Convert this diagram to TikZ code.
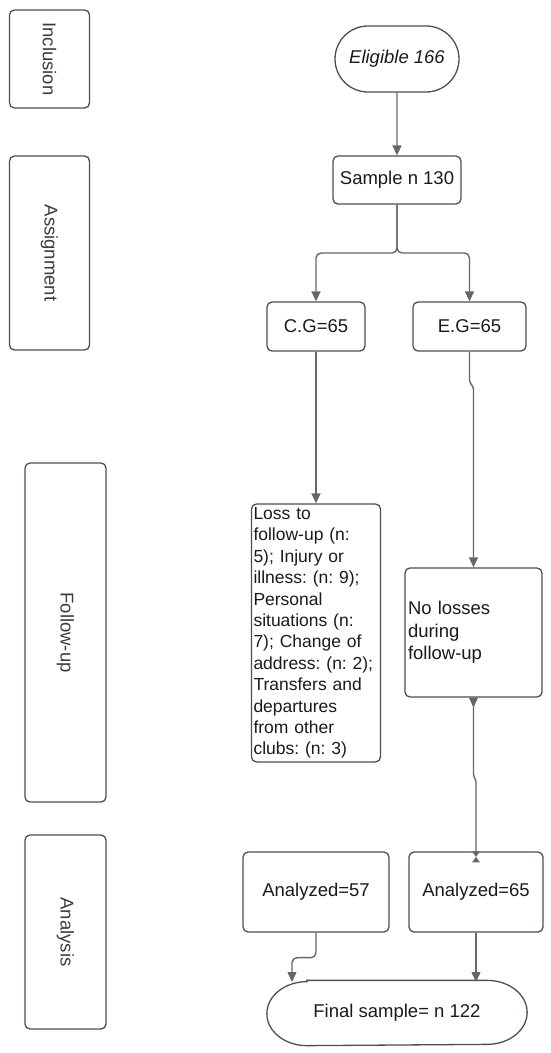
\documentclass[tikz,border=0pt]{standalone}
\usepackage{fontspec}
\setmainfont{Liberation Sans}
\usetikzlibrary{arrows.meta,shapes.misc,calc}
\definecolor{edgecol}{HTML}{4A4F55}
\definecolor{conncol}{HTML}{666666}
\definecolor{ink}{HTML}{1A1A1A}
\frenchspacing
\tikzset{
  base/.style={draw=edgecol, line width=1.3pt, text=ink, inner sep=3pt, align=center,
    font=\fontsize{18.5pt}{22pt}\selectfont},
  box/.style={base, rounded corners=5pt},
  lane/.style={box, text=ink!85, font=\fontsize{18.5pt}{22pt}\selectfont, rotate=-90},
  conn/.style={draw=conncol, line width=1.4pt, -{Triangle[length=10pt,width=9pt]}},
}
\begin{document}
\begin{tikzpicture}[x=1pt,y=-1pt]
\useasboundingbox (0,0) rectangle (550,1053);
% lane labels
\node[lane, minimum width=98pt, minimum height=80pt] (inc) at (49.5,59) {Inclusion};
\node[lane, minimum width=194pt, minimum height=80pt] (asg) at (49.5,253) {Assignment};
\node[lane, minimum width=339pt, minimum height=81pt] (fol) at (65.5,632.5) {Follow-up};
\node[lane, minimum width=194pt, minimum height=81pt] (ana) at (65.5,932) {Analysis};
% flow nodes
\node[base, rounded rectangle, minimum width=130pt, minimum height=66pt, font=\fontsize{18.5pt}{22pt}\selectfont\itshape] (elig) at (397,59) {Eligible 166};
\node[box, minimum width=128pt, minimum height=48pt] (sample) at (397,180) {Sample n 130};
\node[box, minimum width=98pt, minimum height=49pt] (cg) at (316,326.5) {C.G=65};
\node[box, minimum width=113pt, minimum height=49pt] (eg) at (469.5,326.5) {E.G=65};
\node[box, align=left, text width=125pt, inner xsep=2pt, minimum height=258pt,
  font=\fontsize{17.5pt}{21.4pt}\selectfont] (loss) at (316,633)
  {Loss to\\follow-up (n:\\5); Injury or\\illness: (n: 9);\\Personal\\situations (n:\\7); Change of\\address: (n: 2);\\Transfers and\\departures\\from other\\clubs: (n: 3)};
\node[box, align=left, text width=131pt, inner xsep=3pt, minimum height=129pt,
  font=\fontsize{18.5pt}{22.5pt}\selectfont] (nl) at (473.5,632.5)
  {No losses\\during\\follow-up};
\node[box, minimum width=146pt, minimum height=80pt] (a57) at (316,892) {Analyzed=57};
\node[box, minimum width=134pt, minimum height=80pt] (a65) at (476,892) {Analyzed=65};
\node[base, draw=none, minimum width=259pt, minimum height=64pt] (final) at (397,1013) {Final sample= n 122};
\draw[draw=edgecol, line width=1.3pt]
  ([xshift=40pt]final.north west) -- ([xshift=-40pt]final.north east)
  arc[start angle=90, end angle=-90, x radius=40pt, y radius=32pt]
  -- ([xshift=40pt]final.south west)
  arc[start angle=270, end angle=90, x radius=40pt, y radius=32pt] -- cycle;
% connectors
\coordinate (br) at (397,253);
\coordinate (fin57) at (292,982);
\coordinate (fin65) at (476,982);
\draw[conn] (elig) -- (sample);
\draw[conn, rounded corners=5pt] (sample.south) -- (br) -| (cg.north);
\draw[conn, rounded corners=5pt] (sample.south) -- (br) -| (eg.north);
\draw[conn] (cg) -- (loss);
\draw[conn, rounded corners=1.5pt] (eg.south) -- ++(0,30) -- ++(4,6) -- (nl.north);
\draw[conn, -, rounded corners=1.5pt] (nl.south) -- ++(0,78) -- ++(2.5,5) -- (a65.north);
\draw[draw=none, fill=conncol] ([xshift=-4.5pt]nl.south) -- ([xshift=4.5pt]nl.south) -- ([yshift=-10pt]nl.south) -- cycle;
\draw[draw=none, fill=conncol] ([xshift=-4pt,yshift=-11pt]a65.north) -- ([xshift=4pt,yshift=-11pt]a65.north) -- ([xshift=-4pt]a65.north) -- ([xshift=4pt]a65.north) -- cycle;
\draw[conn, rounded corners=5pt] (a57.south) -- ++(0,25) -| (fin57);
\draw[conn] (a65.south) -- (fin65);
\end{tikzpicture}
\end{document}
